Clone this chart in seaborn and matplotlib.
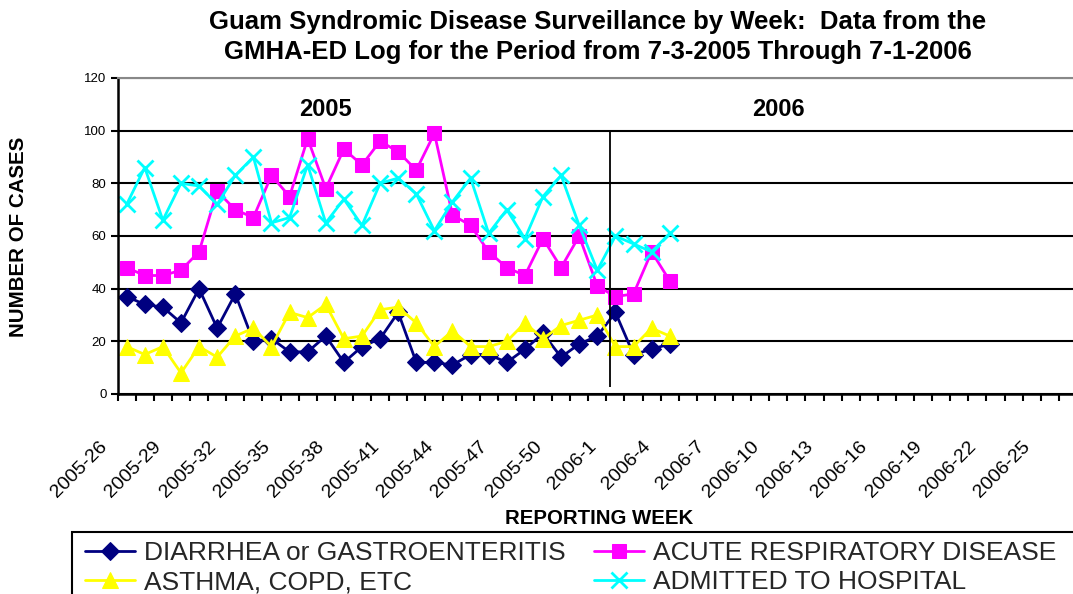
import numpy as np
import pandas as pd
import matplotlib
matplotlib.use("Agg")
import matplotlib.pyplot as plt
import matplotlib.transforms as mtransforms
from matplotlib.patches import Rectangle
import seaborn as sns

# ---------------- data ----------------
weeks = [f"2005-{w}" for w in range(26, 53)] + [f"2006-{w}" for w in range(1, 27)]
data_weeks = [f"2005-{w}" for w in range(26, 53)] + [f"2006-{w}" for w in range(1, 5)]

diarrhea = [37, 34, 33, 27, 40, 25, 38, 20, 21, 16, 16, 22, 12, 18, 21, 31,
            12, 12, 11, 15, 15, 12, 17, 23, 14, 19, 22, 31, 15, 17, 19]
acute_resp = [48, 45, 45, 47, 54, 77, 70, 67, 83, 75, 97, 78, 93, 87, 96, 92,
              85, 99, 68, 64, 54, 48, 45, 59, 48, 60, 41, 37, 38, 54, 43]
asthma = [18, 15, 18, 8, 18, 14, 22, 25, 18, 31, 29, 34, 21, 22, 32, 33,
          27, 18, 24, 18, 18, 20, 27, 21, 26, 28, 30, 18, 18, 25, 22]
admitted = [72, 86, 66, 80, 79, 72, 83, 90, 65, 67, 87, 65, 74, 64, 80, 82,
            76, 62, 73, 82, 61, 70, 59, 75, 83, 64, 47, 60, 57, 54, 61]

series_names = ["DIARRHEA or GASTROENTERITIS", "ASTHMA, COPD, ETC",
                "ACUTE RESPIRATORY DISEASE", "ADMITTED TO HOSPITAL"]
series_values = [diarrhea, asthma, acute_resp, admitted]
y_ticks = [0, 20, 40, 60, 80, 100, 120]
year_labels = ["2005", "2006"]

# ---------------- style ----------------
sns.set_theme(style="white")
plt.rcParams["font.family"] = ["Liberation Sans", "DejaVu Sans"]

colors = ["#000080", "#FFFF00", "#FF00FF", "#00FFFF"]
markers = ["D", "^", "s", "x"]
msizes = [9, 11, 10.5, 11]

W, H = 1073, 594
fig = plt.figure(figsize=(W / 100, H / 100), dpi=100)
ax_left, ax_right, ax_top, ax_bottom = 117.6, 1077.0, 78.0, 394.0
ax = fig.add_axes([ax_left / W, 1 - ax_bottom / H, (ax_right - ax_left) / W,
                   (ax_bottom - ax_top) / H])

pos_of = {w: i for i, w in enumerate(weeks)}
xpos = [pos_of[w] for w in data_weeks]

for name, vals, c, m, ms in zip(series_names, series_values, colors, markers, msizes):
    df = pd.DataFrame({"x": xpos, "y": vals})
    if m == "x":
        sns.lineplot(data=df, x="x", y="y", ax=ax, color=c, lw=2, marker=m,
                     markersize=ms, markeredgewidth=2, markeredgecolor=c,
                     label=name, sort=False)
    else:
        sns.lineplot(data=df, x="x", y="y", ax=ax, color=c, lw=2, marker=m,
                     markersize=ms, markeredgecolor=c, markerfacecolor=c,
                     label=name, sort=False)

ax.set_xlim(-0.5, len(weeks) - 0.5)
ax.set_ylim(0, 120)
ax.set_yticks(y_ticks)
ax.set_yticklabels([str(v) for v in y_ticks], fontsize=9.5)
ax.yaxis.grid(True, color="black", lw=1.5)
ax.set_axisbelow(True)
ax.set_xlabel("")
ax.set_ylabel("")

for s in ["left", "bottom"]:
    ax.spines[s].set_color("black")
    ax.spines[s].set_linewidth(1.8)
ax.spines["top"].set_color("#888888")
ax.spines["top"].set_linewidth(1.5)
ax.spines["right"].set_visible(False)

ax.tick_params(axis="y", which="major", direction="out", length=5, width=1.5,
               color="black", left=True, pad=3, labelcolor="black")
# x ticks: marks at category boundaries, labels every 3rd category
ax.set_xticks(np.arange(-0.5, len(weeks), 1.0))
ax.set_xticklabels([])
ax.tick_params(axis="x", which="major", direction="out", length=5, width=1.5,
               color="black", bottom=True)

label_idx = list(range(0, len(weeks), 3))
off = mtransforms.ScaledTranslation(-22 / 100, -50 / 100, fig.dpi_scale_trans)
tr = mtransforms.blended_transform_factory(ax.transData, ax.transAxes) + off
for i in label_idx:
    ax.text(i, 0, weeks[i], transform=tr, rotation=45, rotation_mode="anchor",
            ha="right", va="center", fontsize=14, color="black", clip_on=False)

# year divider and year labels
div_x = pos_of["2006-1"] - 0.3
ax.vlines(div_x, 2.5, 100, color="black", lw=1.3)
ax.text(pos_of["2005-37"], 108, year_labels[0], ha="center", va="center",
        fontsize=17, fontweight="bold", color="black")
ax.text(pos_of["2006-10"], 108, year_labels[1], ha="center", va="center",
        fontsize=17, fontweight="bold", color="black")

# titles
fig.text(598 / W, 1 - 37 / H,
         "Guam Syndromic Disease Surveillance by Week:  Data from the\n"
         "GMHA-ED Log for the Period from 7-3-2005 Through 7-1-2006",
         ha="center", va="center", fontsize=18.5, fontweight="bold",
         linespacing=1.32, color="black")
fig.text(19 / W, 1 - 237 / H, "NUMBER OF CASES", rotation=90, ha="center",
         va="center", fontsize=14.8, fontweight="bold", color="black")
fig.text(599 / W, 1 - 518 / H, "REPORTING WEEK", ha="center", va="center",
         fontsize=14.7, fontweight="bold", color="black")

# legend
handles, labels = ax.get_legend_handles_labels()
ax.legend_.remove() if ax.legend_ else None
leg = fig.legend(handles, labels, loc="upper left",
                 bbox_to_anchor=(85 / W, 1 - 541 / H), ncol=2, frameon=False,
                 fontsize=19, handlelength=1.9, handletextpad=0.35,
                 columnspacing=1.05, labelspacing=0.2, borderpad=0,
                 borderaxespad=0)
fig.add_artist(Rectangle((72 / W, -0.05), 1.2, (594 - 532) / H + 0.05,
                         transform=fig.transFigure, fill=False,
                         edgecolor="black", lw=1.5))

fig.savefig("out.png", dpi=100)
